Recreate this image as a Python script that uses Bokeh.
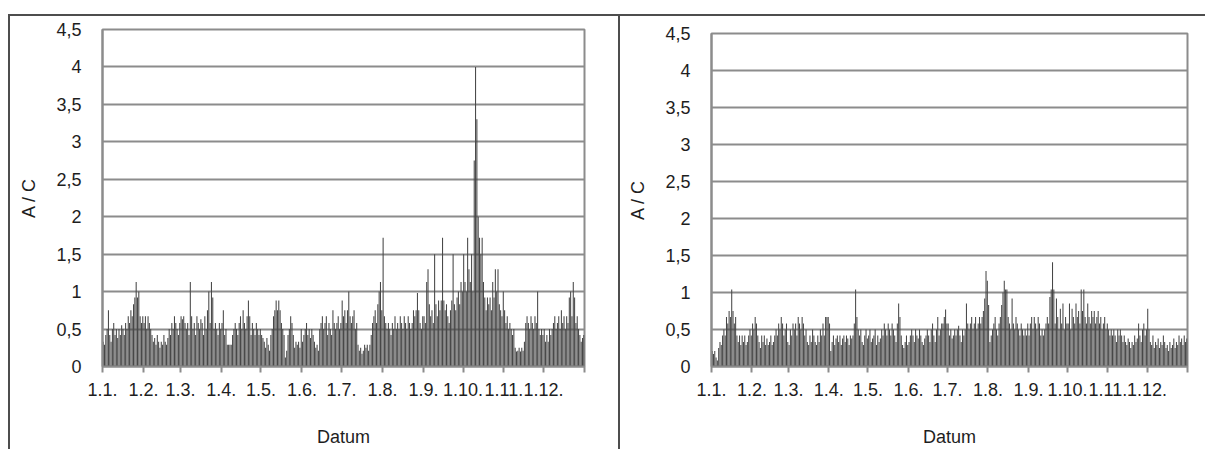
from bokeh.plotting import figure
from bokeh.models import Range1d, FixedTicker, Div, Spacer
from bokeh.layouts import row, column
from bokeh.embed import file_html
from bokeh.resources import INLINE

# ---------------- data (A / C per day) ----------------
month_labels = ["1.1.", "1.2.", "1.3.", "1.4.", "1.5.", "1.6.", "1.7.", "1.8.", "1.9.", "1.10.", "1.11.", "1.12."]
month_days = [31, 28, 31, 30, 31, 30, 31, 31, 30, 31, 30, 31]
y_ticks = [0, 0.5, 1, 1.5, 2, 2.5, 3, 3.5, 4, 4.5]
y_labels = ["0", "0,5", "1", "1,5", "2", "2,5", "3", "3,5", "4", "4,5"]

# left panel
a_jan = [0.33,0.29,0.42,0.5,0.75,0.42,0.33,0.5,0.58,0.42,0.5,0.38,0.5,0.42,0.55,0.5,0.42,0.58,0.5,0.67,0.58,0.75,0.67,0.83,0.92,1.13,0.92,1.0,0.67,0.58,0.67]
a_feb = [0.58,0.67,0.5,0.67,0.58,0.5,0.42,0.33,0.38,0.29,0.42,0.33,0.25,0.33,0.29,0.42,0.33,0.29,0.38,0.5,0.42,0.58,0.5,0.67,0.58,0.5,0.42,0.58]
a_mar = [0.67,0.63,0.67,0.58,0.5,0.58,0.42,1.13,0.67,0.5,0.58,0.42,0.67,0.58,0.5,0.63,0.58,0.42,0.67,0.5,0.75,1.0,0.58,1.13,0.92,0.5,0.58,0.5,0.42,0.58,0.5]
a_apr = [0.58,0.75,0.42,0.5,0.29,0.29,0.29,0.29,0.42,0.5,0.58,0.5,0.42,0.58,0.67,0.5,0.75,0.58,0.5,0.67,0.88,0.67,0.42,0.58,0.5,0.42,0.58,0.5,0.42,0.5]
a_may = [0.42,0.38,0.33,0.25,0.38,0.29,0.21,0.42,0.5,0.67,0.75,0.88,0.75,0.88,0.75,0.58,0.5,0.42,0.12,0.21,0.42,0.5,0.67,0.58,0.42,0.25,0.33,0.29,0.33,0.25,0.5]
a_jun = [0.33,0.42,0.5,0.58,0.42,0.5,0.38,0.5,0.42,0.33,0.25,0.29,0.21,0.5,0.58,0.67,0.5,0.58,0.67,0.42,0.58,0.5,0.42,0.75,0.58,0.5,0.58,0.67,0.5,0.58]
a_jul = [0.88,0.67,0.75,0.58,0.75,1.0,0.67,0.58,0.67,0.75,0.5,0.58,0.29,0.21,0.25,0.17,0.21,0.29,0.25,0.29,0.21,0.29,0.42,0.58,0.67,0.75,0.58,0.83,1.0,1.13,0.75]
a_aug = [1.72,0.67,0.58,0.5,0.58,0.5,0.42,0.58,0.5,0.67,0.5,0.58,0.5,0.67,0.58,0.5,0.67,0.58,0.5,0.67,0.58,0.5,0.58,0.75,0.67,0.75,0.98,0.75,0.58,0.5,0.67]
a_sep = [0.67,0.58,1.13,1.3,0.83,0.67,0.75,0.58,1.5,0.83,0.67,0.88,0.75,0.88,1.72,0.88,0.75,0.83,0.67,0.58,0.75,0.88,1.5,0.83,0.75,0.92,1.0,0.83,1.13,1.0]
a_oct = [1.5,1.13,1.0,1.72,1.3,1.13,1.5,1.0,2.75,4.0,3.3,2.0,1.72,1.5,1.72,1.13,0.92,0.75,0.92,0.83,0.92,0.75,1.13,0.92,1.3,1.0,1.3,0.83,0.75,0.67,1.0]
a_nov = [0.75,0.58,0.67,0.5,0.58,0.5,0.42,0.5,0.25,0.2,0.21,0.25,0.2,0.25,0.21,0.33,0.58,0.67,0.58,0.5,0.67,0.58,0.5,0.67,0.58,1.0,0.5,0.42,0.5,0.42]
a_dec = [0.5,0.33,0.42,0.33,0.5,0.42,0.5,0.58,0.67,0.5,0.58,0.67,0.5,0.75,0.58,0.67,0.5,0.67,0.58,0.92,1.0,0.67,1.13,0.92,0.58,0.67,0.5,0.42,0.33,0.38,0.42]

# right panel
b_jan = [0.21,0.17,0.21,0.12,0.08,0.25,0.33,0.29,0.42,0.5,0.42,0.67,0.58,0.75,0.67,1.04,0.75,0.58,0.67,0.42,0.33,0.42,0.29,0.42,0.33,0.42,0.29,0.33,0.42,0.5,0.42]
b_feb = [0.58,0.5,0.67,0.58,0.42,0.33,0.25,0.42,0.33,0.42,0.29,0.38,0.29,0.33,0.42,0.29,0.33,0.42,0.5,0.42,0.58,0.5,0.67,0.58,0.42,0.5,0.58,0.33]
b_mar = [0.29,0.5,0.42,0.58,0.5,0.58,0.42,0.67,0.58,0.5,0.67,0.58,0.42,0.5,0.33,0.29,0.42,0.33,0.5,0.42,0.33,0.29,0.42,0.33,0.5,0.42,0.58,0.42,0.67,0.67,0.67]
b_apr = [0.58,0.21,0.33,0.42,0.29,0.38,0.42,0.33,0.42,0.29,0.38,0.42,0.33,0.42,0.38,0.29,0.42,0.38,0.42,0.58,1.04,0.67,0.5,0.42,0.5,0.33,0.29,0.42,0.5,0.38]
b_may = [0.42,0.5,0.33,0.38,0.42,0.5,0.29,0.42,0.33,0.38,0.5,0.42,0.58,0.5,0.42,0.58,0.5,0.42,0.58,0.5,0.42,0.33,0.58,0.85,0.67,0.42,0.29,0.25,0.33,0.42,0.29]
b_jun = [0.33,0.42,0.5,0.42,0.33,0.5,0.42,0.38,0.5,0.42,0.33,0.29,0.38,0.42,0.5,0.42,0.33,0.5,0.58,0.42,0.33,0.5,0.67,0.42,0.5,0.58,0.58,0.67,0.77,0.58]
b_jul = [0.58,0.42,0.5,0.38,0.42,0.5,0.42,0.5,0.55,0.42,0.33,0.5,0.42,0.5,0.85,0.58,0.5,0.58,0.67,0.5,0.58,0.67,0.5,0.58,0.67,0.58,0.67,0.75,0.92,1.29,1.16]
b_aug = [0.83,0.33,0.42,0.5,0.58,0.67,0.5,0.42,0.58,0.67,0.83,1.0,1.16,1.04,1.04,0.67,0.58,0.5,0.92,0.58,0.5,0.67,0.58,0.5,0.42,0.58,0.5,0.42,0.5,0.42,0.58]
b_sep = [0.42,0.58,0.67,0.5,0.67,0.58,0.5,0.67,0.58,0.42,0.5,0.42,0.5,0.58,0.67,0.58,0.94,1.04,1.41,1.04,0.58,0.92,0.67,0.5,0.78,0.58,0.85,0.5,0.67,0.58]
b_oct = [0.58,0.85,0.5,0.78,0.67,0.58,0.85,0.67,0.75,0.58,1.04,0.75,1.04,0.67,0.58,0.85,0.67,0.58,0.75,0.67,0.75,0.58,0.67,0.75,0.58,0.67,0.5,0.58,0.67,0.5,0.58]
b_nov = [0.5,0.42,0.5,0.42,0.5,0.42,0.33,0.5,0.42,0.5,0.42,0.33,0.42,0.33,0.29,0.38,0.33,0.25,0.33,0.29,0.42,0.33,0.38,0.58,0.42,0.33,0.5,0.58,0.42,0.5]
b_dec = [0.78,0.5,0.33,0.29,0.42,0.25,0.33,0.29,0.38,0.25,0.33,0.29,0.42,0.33,0.25,0.29,0.21,0.33,0.25,0.29,0.38,0.25,0.33,0.29,0.42,0.33,0.38,0.29,0.42,0.33,0.38]

a_months = [a_jan, a_feb, a_mar, a_apr, a_may, a_jun, a_jul, a_aug, a_sep, a_oct, a_nov, a_dec]
b_months = [b_jan, b_feb, b_mar, b_apr, b_may, b_jun, b_jul, b_aug, b_sep, b_oct, b_nov, b_dec]
for ms in (a_months, b_months):
    for m, n in zip(ms, month_days):
        assert len(m) == n, (len(m), n)

a_vals = [v for m in a_months for v in m]
b_vals = [v for m in b_months for v in m]
n_days = sum(month_days)
month_starts = [sum(month_days[:i]) for i in range(12)]

FONT = "Liberation Sans"
TXT = "#1e1e1e"
GRID = "#8c8c8c"
BAR = "#474747"
FRAME = "#4d4d4d"


def make_panel(vals, width, height, b_left, b_right, b_top, b_bottom):
    p = figure(width=width, height=height, x_range=Range1d(0, n_days), y_range=Range1d(0, 4.5),
               output_backend="svg", toolbar_location=None, title=None,
               min_border_left=b_left, min_border_right=b_right,
               min_border_top=b_top, min_border_bottom=b_bottom,
               background_fill_color="white", border_fill_color="white", margin=0)
    xs = [i + 0.5 for i in range(len(vals))]
    p.vbar(x=xs, top=vals, bottom=0, width=0.8, fill_color=BAR, line_color=None)

    p.xgrid.grid_line_color = None
    p.ygrid.grid_line_color = GRID
    p.ygrid.grid_line_width = 2
    p.ygrid.ticker = FixedTicker(ticks=y_ticks)
    p.outline_line_color = GRID
    p.outline_line_width = 2

    ya = p.yaxis[0]
    ya.ticker = FixedTicker(ticks=y_ticks)
    ya.major_label_overrides = dict(zip(y_ticks, y_labels))
    ya.major_tick_line_color = None
    ya.minor_tick_line_color = None
    ya.axis_line_color = GRID
    ya.axis_line_width = 2
    ya.major_label_standoff = 15
    ya.major_label_text_font = FONT
    ya.major_label_text_font_size = "18px"
    ya.major_label_text_color = TXT
    ya.axis_label = "A / C"
    ya.axis_label_text_font = FONT
    ya.axis_label_text_font_size = "18px"
    ya.axis_label_text_font_style = "normal"
    ya.axis_label_text_color = TXT
    ya.axis_label_standoff = 14

    xa = p.xaxis[0]
    xa.ticker = FixedTicker(ticks=month_starts + [n_days])
    overrides = dict(zip(month_starts, month_labels))
    overrides[n_days] = ""
    xa.major_label_overrides = overrides
    xa.major_tick_in = 0
    xa.major_tick_out = 6
    xa.major_tick_line_color = GRID
    xa.major_tick_line_width = 2
    xa.minor_tick_line_color = None
    xa.axis_line_color = GRID
    xa.axis_line_width = 2
    xa.major_label_standoff = 10
    xa.major_label_text_font = FONT
    xa.major_label_text_font_size = "18px"
    xa.major_label_text_color = TXT
    xa.axis_label = "Datum"
    xa.axis_label_text_font = FONT
    xa.axis_label_text_font_size = "18px"
    xa.axis_label_text_font_style = "normal"
    xa.axis_label_text_color = TXT
    xa.axis_label_standoff = 28
    return p


H = 433
SHIFT = 4
p1 = make_panel(a_vals, 608, H, 92, 34, 13, 81)
p2 = make_panel(b_vals, 585, H - SHIFT, 91, 18, 13, 83 - SHIFT)

bg = {"background-color": FRAME}
top_line = Div(text="", width=1197, height=2, styles=bg, margin=0)
left_line = Div(text="", width=2, height=H, styles=bg, margin=0)
mid_line = Div(text="", width=2, height=H, styles=bg, margin=0)

right_col = column(Spacer(width=585, height=SHIFT, margin=0), p2, spacing=0, margin=0)
left_col = column(p1, spacing=0, margin=0)
inner = column(top_line, row(left_line, left_col, mid_line, right_col, spacing=0, margin=0), spacing=0, margin=0)
layout = column(Spacer(width=1205, height=14, margin=0),
                row(Spacer(width=8, height=H + 2, margin=0), inner, spacing=0, margin=0),
                spacing=0, margin=0)

open("out.html", "w").write(file_html(layout, INLINE))
